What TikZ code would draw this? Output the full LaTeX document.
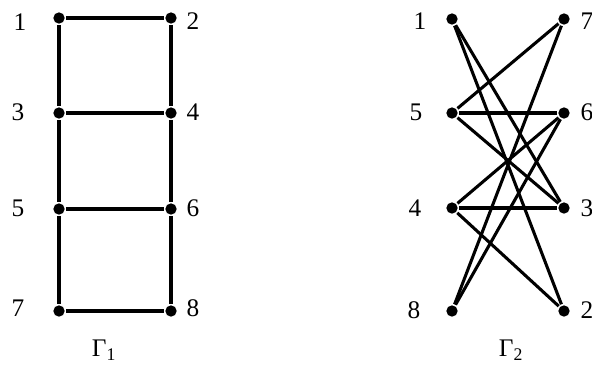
\documentclass[tikz,border=0pt]{standalone}
\usepackage{fontspec}
\setmainfont{Liberation Serif}

\begin{document}
\begin{tikzpicture}[x=0.75pt, y=-0.75pt, line width=2.3pt,
    vtx/.style={circle, fill, inner sep=0pt, minimum size=8.5pt},
    num/.style={font=\fontsize{19}{22}\selectfont, inner sep=0pt}]
    \useasboundingbox (0,0) rectangle (592,365);
    % Gamma_1
    \node[vtx] (a1) at (59,18) {};
    \node[vtx] (a2) at (171,18) {};
    \node[vtx] (a3) at (59,113) {};
    \node[vtx] (a4) at (171,113) {};
    \node[vtx] (a5) at (59,209) {};
    \node[vtx] (a6) at (171,209) {};
    \node[vtx] (a7) at (59,311) {};
    \node[vtx] (a8) at (171,311) {};
    \node[num] (la1) at (20,22) {1};
    \node[num] (la2) at (193,21) {2};
    \node[num] (la3) at (18,112) {3};
    \node[num] (la4) at (193,112) {4};
    \node[num] (la5) at (18,208) {5};
    \node[num] (la6) at (193,208) {6};
    \node[num] (la7) at (18,308) {7};
    \node[num] (la8) at (193,308) {8};
    \node[num] (g1) at (104,350) {Γ\textsubscript{1}};
    \draw (a1) -- (a2);
    \draw (a3) -- (a4);
    \draw (a5) -- (a6);
    \draw (a7) -- (a8);
    \draw (a1) -- (a3) -- (a5) -- (a7);
    \draw (a2) -- (a4) -- (a6) -- (a8);
    % Gamma_2
    \node[vtx] (b1) at (452,19) {};
    \node[vtx] (b7) at (564,19) {};
    \node[vtx] (b5) at (452,113) {};
    \node[vtx] (b6) at (564,113) {};
    \node[vtx] (b4) at (452,208) {};
    \node[vtx] (b3) at (564,208) {};
    \node[vtx] (b8) at (452,311) {};
    \node[vtx] (b2) at (564,311) {};
    \node[num] (lb1) at (420,21) {1};
    \node[num] (lb7) at (587,21) {7};
    \node[num] (lb5) at (416,112) {5};
    \node[num] (lb6) at (587,112) {6};
    \node[num] (lb4) at (415,208) {4};
    \node[num] (lb3) at (587,208) {3};
    \node[num] (lb8) at (414,310) {8};
    \node[num] (lb2) at (587,310) {2};
    \node[num] (g2) at (511,350) {Γ\textsubscript{2}};
    \draw (b1) -- (b2);
    \draw (b1) -- (b3);
    \draw (b7) -- (b5);
    \draw (b7) -- (b8);
    \draw (b5) -- (b6);
    \draw (b5) -- (b3);
    \draw (b6) -- (b4);
    \draw (b6) -- (b8);
    \draw (b4) -- (b3);
    \draw (b4) -- (b2);
\end{tikzpicture}
\end{document}
